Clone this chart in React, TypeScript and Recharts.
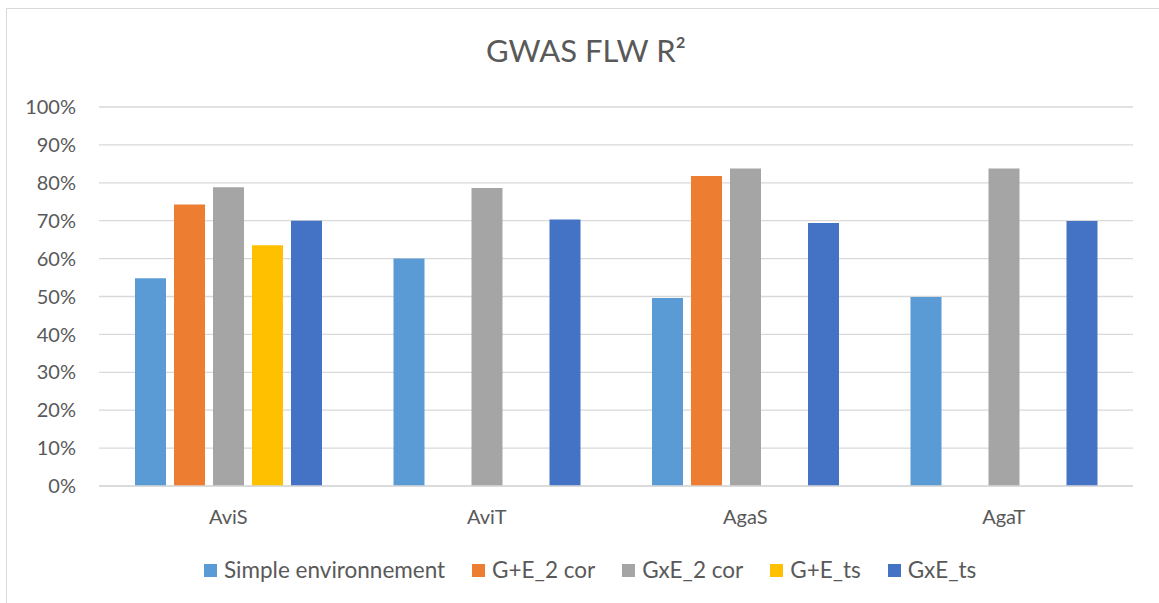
import { BarChart, Bar, XAxis, YAxis, CartesianGrid } from "recharts"

const categories = ["AviS", "AviT", "AgaS", "AgaT"]

const simpleEnv = [54.8, 60.0, 49.6, 49.9]
const gE2cor = [74.3, null, 81.8, null]
const gxE2cor = [78.8, 78.6, 83.8, 83.8]
const gEts = [63.5, null, null, null]
const gxEts = [70.0, 70.3, 69.4, 69.9]

const yTicks = [0, 10, 20, 30, 40, 50, 60, 70, 80, 90, 100]

const SERIES = [
  { key: "simple", name: "Simple environnement", color: "#5B9BD5", values: simpleEnv },
  { key: "ge2", name: "G+E_2 cor", color: "#ED7D31", values: gE2cor },
  { key: "gxe2", name: "GxE_2 cor", color: "#A5A5A5", values: gxE2cor },
  { key: "gets", name: "G+E_ts", color: "#FFC000", values: gEts },
  { key: "gxets", name: "GxE_ts", color: "#4472C4", values: gxEts },
]

const data = categories.map((cat, i) => {
  const row: Record<string, string | number | null> = { cat }
  SERIES.forEach((s) => {
    row[s.key] = s.values[i]
  })
  return row
})

const FONT = "Lato, 'Noto Sans', sans-serif"
const TEXT = "#595959"

export default function App() {
  return (
    <div style={{ position: "absolute", left: 0, top: 0, width: 1159, height: 603, overflow: "hidden", background: "#fff", fontFamily: FONT }}>
      <div
        style={{
          position: "absolute",
          left: 6,
          top: 8,
          width: 1200,
          height: 700,
          borderLeft: "1px solid #d9d9d9",
          borderTop: "1px solid #d9d9d9",
        }}
      />
      <div
        style={{
          position: "absolute",
          left: 0,
          width: 1172,
          top: 32,
          textAlign: "center",
          fontSize: 31,
          lineHeight: "37px",
          color: TEXT,
        }}
      >
        GWAS FLW R²
      </div>

      <div style={{ position: "absolute", left: 0, top: 0 }}>
        <BarChart
          width={1159}
          height={603}
          data={data}
          margin={{ top: 107, right: 26, bottom: 57, left: 0 }}
          barSize={31}
          barGap={8}
        >
          <CartesianGrid vertical={false} stroke="#d9d9d9" strokeWidth={1.3} />
          <XAxis
            dataKey="cat"
            height={60}
            tickLine={false}
            tickSize={0}
            tickMargin={24}
            axisLine={{ stroke: "#d9d9d9", strokeWidth: 1.3 }}
            tick={{ fill: TEXT, fontSize: 20, fontFamily: FONT }}
          />
          <YAxis
            width={99}
            domain={[0, 100]}
            ticks={yTicks}
            interval={0}
            tickFormatter={(v) => `${v}%`}
            axisLine={false}
            tickLine={false}
            tickSize={0}
            tickMargin={23}
            tick={{ fill: TEXT, fontSize: 20, fontFamily: FONT }}
          />
          {SERIES.map((s) => (
            <Bar key={s.key} dataKey={s.key} name={s.name} fill={s.color} isAnimationActive={false} />
          ))}
        </BarChart>
      </div>

      <div
        style={{
          position: "absolute",
          left: 204,
          top: 556,
          display: "flex",
          alignItems: "center",
          gap: 27,
          fontSize: 22.5,
          lineHeight: "28px",
          color: TEXT,
          whiteSpace: "nowrap",
        }}
      >
        {SERIES.map((s) => (
          <div key={s.key} style={{ display: "flex", alignItems: "center", gap: 7 }}>
            <span style={{ width: 13, height: 13, background: s.color, display: "inline-block" }} />
            <span>{s.name}</span>
          </div>
        ))}
      </div>
    </div>
  )
}
